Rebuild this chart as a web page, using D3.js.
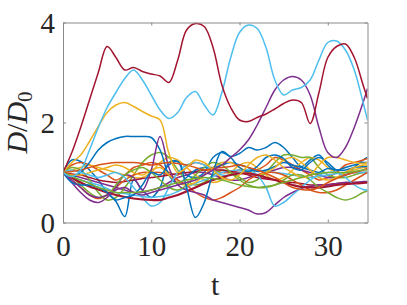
<!DOCTYPE html>
<html>
<head>
<meta charset="utf-8">
<script src="https://d3js.org/d3.v7.min.js"></script>
<style>
  body { margin: 0; background: #fff; }
  svg { display: block; }
</style>
</head>
<body>
<svg id="chart" width="407" height="305"></svg>
<script>
// time samples shared by every run
var t = [0,1,2,3,4,5,6,7,8,9,10,11,12,13,14,15,16,17,18,19,20,21,22,23,24,25,26,27,28,29,30,31,32,33,34,34.5];

var xTicks = [0, 10, 20, 30];
var yTicks = [0, 2, 4];

// MATLAB default line colours
var colors = ["#0072BD", "#D95319", "#EDB120", "#7E2F8E", "#77AC30", "#4DBEEE", "#A2142F"];

// D/D0 per run (same length as t)
var blue1 = [1,1.25,1.22,1.05,0.85,0.6,0.42,0.12,0.85,0.65,0.5,0.7,1.2,1.22,0.95,0.9,1.0,1.3,1.4,1.32,1.38,1.5,1.45,1.5,1.6,1.5,1.3,1.12,1.25,1.35,1.15,1.0,0.95,1.1,1.25,1.3];
var blue2 = [1,0.9,1.0,1.2,1.45,1.6,1.68,1.72,1.72,1.72,1.7,1.45,0.95,0.78,0.9,1.05,1.1,1.1,1.15,1.2,1.15,1.1,1.02,1.05,1.12,1.2,1.15,1.1,1.05,1.0,1.08,1.05,1.05,1.1,1.12,1.12];
var blue3 = [1,0.8,0.75,0.75,0.7,0.6,0.45,0.5,0.55,0.75,1.0,0.95,1.15,1.22,0.7,0.1,0.4,1.0,1.42,1.3,1.1,1.02,1.12,1.3,1.35,1.28,1.1,1.05,1.2,1.3,1.2,1.05,1.1,1.15,1.2,1.2];
var orange1 = [1,1.15,1.2,1.15,1.05,0.95,0.85,0.95,1.1,1.15,1.2,1.15,1.0,0.95,1.1,1.2,1.15,1.05,1.0,1.0,1.05,1.0,1.05,1.15,1.3,1.25,1.15,1.05,0.95,0.85,0.9,1.0,1.15,1.2,1.25,1.28];
var orange2 = [1,0.85,0.7,0.55,0.48,0.55,0.7,0.85,0.95,1.0,1.0,1.0,0.95,0.85,0.75,0.6,0.5,0.45,0.5,0.6,0.7,0.85,0.95,1.0,1.0,0.95,0.85,0.75,0.65,0.6,0.6,0.65,0.75,0.85,0.95,1.0];
var orange3 = [1,1.02,1.05,1.1,1.15,1.18,1.2,1.2,1.2,1.18,1.15,1.18,1.2,1.18,1.15,1.1,1.05,1.08,1.1,1.12,1.15,1.1,1.05,0.98,0.9,0.8,0.7,0.66,0.65,0.7,0.8,0.88,0.95,1.0,1.05,1.08];
var yellow1 = [1,1.2,1.35,1.62,1.92,2.2,2.35,2.4,2.32,2.22,2.13,2.05,1.38,1.0,1.1,1.25,1.2,1.05,0.9,0.85,0.95,1.15,1.3,1.35,1.25,1.1,1.0,0.9,0.95,1.15,1.3,1.3,1.25,1.2,1.18,1.2];
var yellow2 = [1,1.05,1.1,1.15,1.1,1.05,1.0,0.95,0.9,0.9,1.0,1.2,1.3,1.25,1.1,0.95,0.85,0.8,0.85,1.0,1.15,1.2,1.1,0.95,0.85,0.9,1.05,1.2,1.3,1.25,1.1,1.0,1.0,1.05,1.1,1.1];
var yellow3 = [1,0.95,0.95,1.0,1.05,1.1,1.15,1.1,1.0,0.95,1.05,1.1,0.95,0.8,0.75,0.8,0.95,1.1,1.2,1.2,1.1,1.0,0.95,1.0,1.1,1.25,1.3,1.2,1.05,0.9,0.85,0.9,1.0,1.1,1.15,1.15];
var purple1 = [1,0.85,0.7,0.55,0.5,0.55,0.65,0.7,0.6,0.55,0.6,0.65,0.7,0.75,0.8,0.85,0.95,1.05,1.15,1.3,1.45,1.65,1.95,2.3,2.65,2.85,2.92,2.85,2.55,1.9,1.4,1.3,1.5,1.9,2.4,2.68];
var purple2 = [1,0.8,0.6,0.45,0.4,0.5,0.7,0.95,0.9,0.65,1.05,1.72,1.1,0.75,0.65,0.6,0.55,0.45,0.4,0.35,0.3,0.25,0.17,0.2,0.35,0.5,0.6,0.68,0.72,0.75,0.75,0.78,0.8,0.8,0.82,0.82];
var purple3 = [1,0.95,0.9,0.85,0.8,0.75,0.7,0.65,0.6,0.6,0.65,0.7,0.8,0.9,0.95,1.0,1.0,0.95,0.9,0.85,0.85,0.9,0.95,1.0,1.05,1.1,1.1,1.05,1.0,0.95,0.9,0.9,0.95,1.0,1.0,1.0];
var green1 = [1,1.1,1.05,0.85,0.6,0.45,0.5,0.7,0.95,1.2,1.35,1.4,1.3,1.05,0.85,0.75,0.8,0.95,1.05,1.0,0.9,0.8,0.85,1.0,1.2,1.35,1.35,1.3,1.3,1.1,0.95,0.9,0.9,0.95,1.0,1.0];
var green2 = [1,0.9,0.75,0.6,0.5,0.55,0.75,0.95,1.05,1.1,1.0,0.85,0.7,0.65,0.75,0.95,1.1,1.2,1.15,1.0,0.85,0.75,0.7,0.7,0.75,0.85,0.95,0.95,0.85,0.7,0.6,0.5,0.45,0.5,0.6,0.63];
var green3 = [1,0.92,0.85,0.78,0.7,0.65,0.6,0.6,0.6,0.62,0.65,0.7,0.75,0.8,0.85,0.88,0.9,0.88,0.85,0.8,0.75,0.72,0.7,0.72,0.75,0.8,0.85,0.9,0.95,0.98,1.0,1.0,1.0,1.02,1.05,1.05];
var cyan1 = [1,0.92,1.05,1.45,1.9,2.3,2.6,2.88,3.05,2.85,2.55,2.25,2.08,2.2,2.5,2.62,2.35,2.15,2.6,3.3,3.8,3.95,3.88,3.5,2.85,2.55,2.65,2.7,2.85,3.25,3.6,3.63,3.45,3.05,2.4,2.05];
var cyan2 = [1,1.05,1.0,0.95,0.9,0.95,1.0,0.9,0.7,0.5,0.33,0.4,0.7,1.0,1.15,1.2,1.15,1.05,0.95,0.95,1.0,1.05,0.95,0.7,0.33,0.4,0.55,0.7,0.85,0.95,1.0,1.0,0.9,0.75,0.66,0.65];
var cyan3 = [1,0.92,0.85,0.8,0.75,0.68,0.6,0.58,0.55,0.52,0.5,0.52,0.55,0.62,0.7,0.78,0.85,0.92,1.0,1.03,1.05,1.05,1.05,1.02,1.0,0.98,0.95,0.92,0.9,0.92,0.95,0.98,1.0,1.0,1.0,1.0];
var red1 = [1,1.4,1.9,2.45,3.0,3.52,3.3,3.05,3.1,3.02,2.97,2.93,2.8,3.25,3.85,3.98,3.92,3.5,2.75,2.3,2.05,2.02,2.1,2.17,2.27,2.38,2.45,2.4,1.98,2.6,3.3,3.52,3.57,3.3,2.75,2.48];
var red2 = [1,0.9,0.8,0.72,0.66,0.6,0.55,0.51,0.48,0.46,0.45,0.45,0.5,0.55,0.62,0.7,0.78,0.85,0.9,0.95,0.98,0.98,0.95,0.9,0.85,0.8,0.75,0.71,0.7,0.7,0.72,0.75,0.77,0.78,0.79,0.8];
var red3 = [1,0.97,0.95,0.9,0.85,0.82,0.8,0.82,0.85,0.88,0.9,0.92,0.95,0.98,1.0,1.02,1.05,1.05,1.05,1.02,1.0,0.95,0.9,0.87,0.85,0.82,0.8,0.78,0.75,0.75,0.76,0.78,0.8,0.8,0.8,0.8];

var runs = [
  {v: blue1, c: 0}, {v: orange1, c: 1}, {v: yellow2, c: 2}, {v: purple3, c: 3},
  {v: green1, c: 4}, {v: cyan3, c: 5}, {v: red3, c: 6},
  {v: blue2, c: 0}, {v: orange2, c: 1}, {v: yellow3, c: 2}, {v: purple2, c: 3},
  {v: green2, c: 4}, {v: cyan2, c: 5}, {v: red2, c: 6},
  {v: blue3, c: 0}, {v: orange3, c: 1}, {v: yellow1, c: 2}, {v: purple1, c: 3},
  {v: green3, c: 4}, {v: cyan1, c: 5}, {v: red1, c: 6}
];

var svg = d3.select("#chart");
var mLeft = 63, mRight = 367.5, mTop = 22.5, mBottom = 222.5;

var x = d3.scaleLinear().domain([0, 34.5]).range([mLeft, mRight]);
var y = d3.scaleLinear().domain([0, 4]).range([mBottom, mTop]);

var axisColor = "#8a8a8a";
var font = "'Liberation Serif', 'DejaVu Serif', serif";

// lines
var line = d3.line()
  .x((d, i) => x(t[i]))
  .y(d => y(d))
  .curve(d3.curveCatmullRom.alpha(0.5));

svg.append("clipPath").attr("id", "clip")
  .append("rect").attr("x", mLeft).attr("y", mTop - 2).attr("width", mRight - mLeft).attr("height", mBottom - mTop + 4);

svg.append("g").attr("clip-path", "url(#clip)")
  .selectAll("path")
  .data(runs)
  .enter()
  .append("path")
  .attr("d", d => line(d.v))
  .attr("fill", "none")
  .attr("stroke", d => colors[d.c])
  .attr("stroke-width", (d) => d.v === red2 ? 2.2 : 1.5)
  .attr("stroke-linejoin", "round");

// axes
var gx = svg.append("g")
  .attr("transform", "translate(0," + mBottom + ")")
  .call(d3.axisBottom(x).tickValues(xTicks).tickSizeInner(-3).tickSizeOuter(0).tickPadding(13).tickFormat(d3.format("d")));
var gxTop = svg.append("g")
  .attr("transform", "translate(0," + mTop + ")")
  .call(d3.axisTop(x).tickValues(xTicks).tickSizeInner(-3).tickSizeOuter(0).tickFormat(""));
var gy = svg.append("g")
  .attr("transform", "translate(" + mLeft + ",0)")
  .call(d3.axisLeft(y).tickValues(yTicks).tickSizeInner(-3).tickSizeOuter(0).tickPadding(8).tickFormat(d3.format("d")));
var gyRight = svg.append("g")
  .attr("transform", "translate(" + mRight + ",0)")
  .call(d3.axisRight(y).tickValues(yTicks).tickSizeInner(-3).tickSizeOuter(0).tickFormat(""));

[gx, gxTop, gy, gyRight].forEach(g => {
  g.select(".domain").attr("stroke", axisColor);
  g.selectAll(".tick line").attr("stroke", axisColor);
  g.selectAll(".tick text")
    .attr("fill", "#262626")
    .style("font-family", font)
    .style("font-size", "29px");
});
gy.selectAll(".tick text").attr("dy", "0.34em");

// axis titles
svg.append("text")
  .attr("x", (mLeft + mRight) / 2)
  .attr("y", 295)
  .attr("text-anchor", "middle")
  .attr("fill", "#262626")
  .style("font-family", font)
  .style("font-size", "30px")
  .text("t");

var yl = svg.append("text")
  .attr("transform", "translate(27," + ((mTop + mBottom) / 2) + ") rotate(-90)")
  .attr("text-anchor", "middle")
  .attr("fill", "#262626")
  .style("font-family", font)
  .style("font-size", "30px");
yl.append("tspan").style("font-style", "italic").text("D");
yl.append("tspan").text("/");
yl.append("tspan").style("font-style", "italic").text("D");
yl.append("tspan").attr("dy", "0.25em").style("font-size", "21px").text("0");
</script>
</body>
</html>
